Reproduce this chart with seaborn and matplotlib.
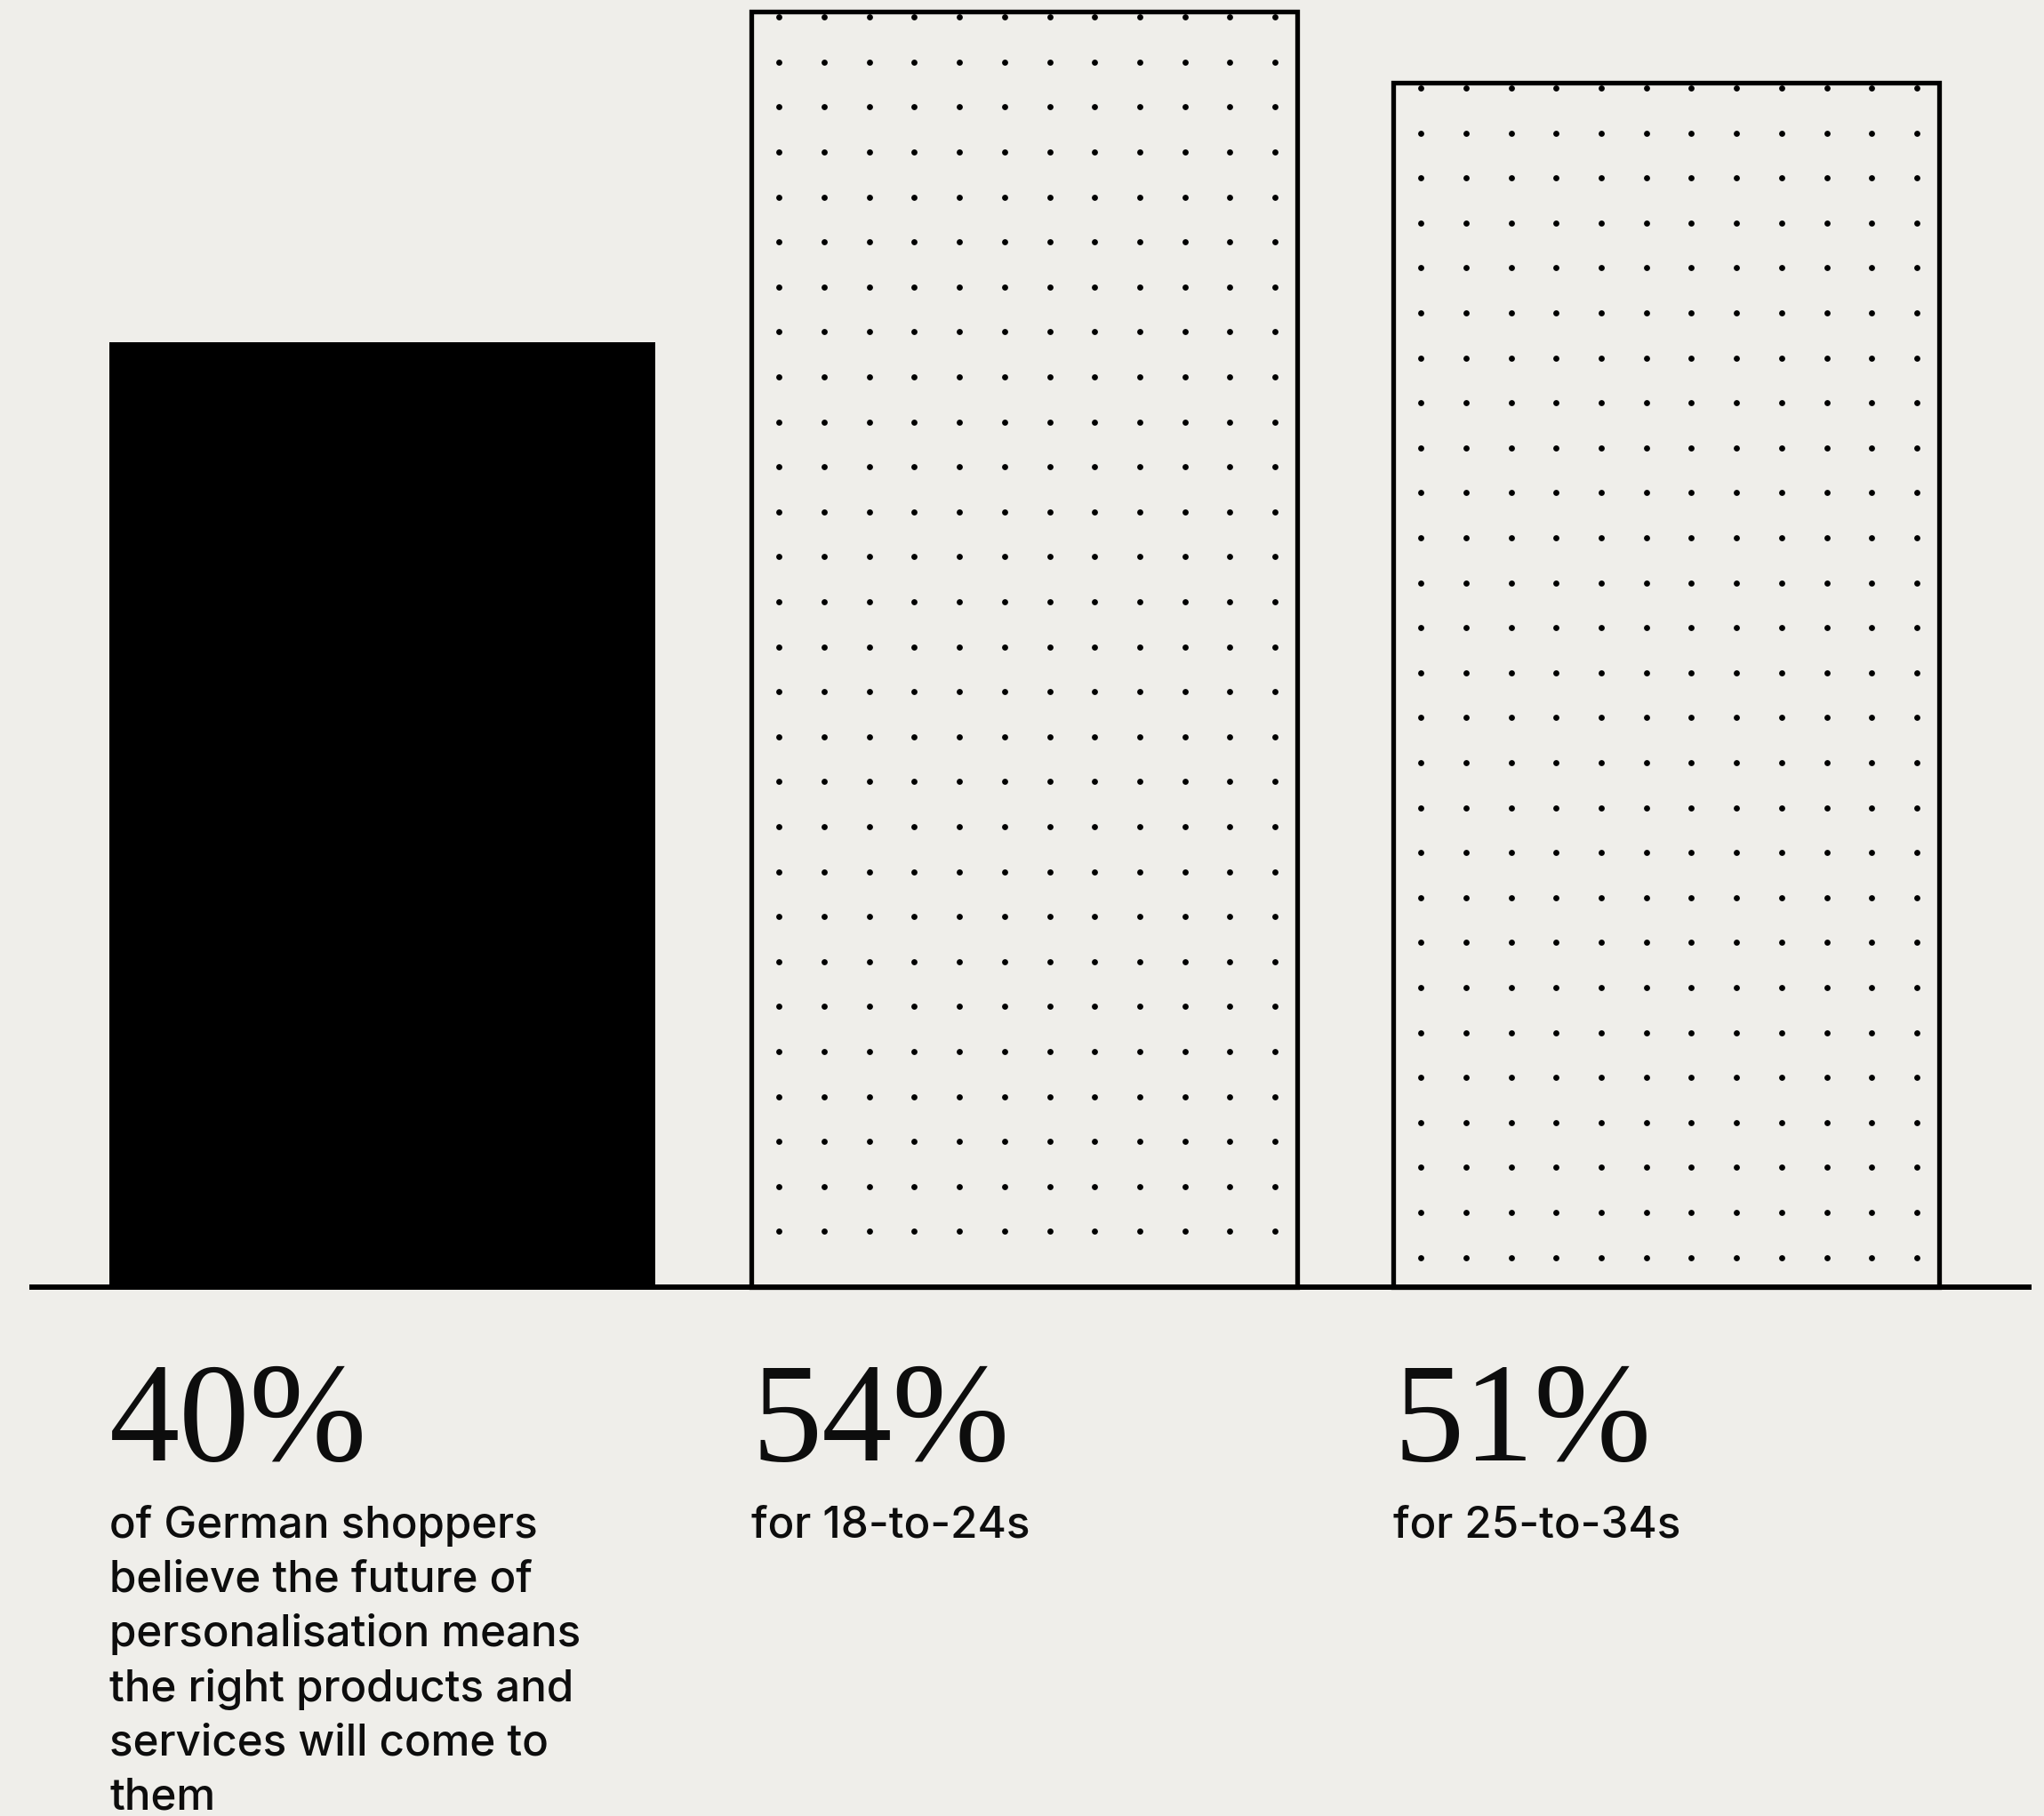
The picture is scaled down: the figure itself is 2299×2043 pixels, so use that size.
import numpy as np
import pandas as pd
import matplotlib
matplotlib.use("Agg")
import matplotlib.pyplot as plt
import seaborn as sns

# ---- data ----
groups = ["All German shoppers", "18-to-24s", "25-to-34s"]
values = [40, 54, 51]
value_labels = ["40%", "54%", "51%"]
captions = [
    "of German shoppers\nbelieve the future of\npersonalisation means\nthe right products and\nservices will come to\nthem",
    "for 18-to-24s",
    "for 25-to-34s",
]
dotted = [False, True, True]

# ---- style ----
BG = "#EFEEEA"
INK = "#000000"
TXT = "#0D0D0D"
W_PX, H_PX, DPI = 2299, 2043, 100

sns.set_theme(style="white")
plt.rcParams["font.family"] = ["Inter", "DejaVu Sans"]

fig = plt.figure(figsize=(W_PX / DPI, H_PX / DPI), dpi=DPI, facecolor=BG)
base_px = 1448  # baseline pixel row from top
py = 26.57      # pixels per percentage point
ax_left, ax_right = 36, 2282
ax = fig.add_axes([ax_left / W_PX, (H_PX - base_px) / H_PX,
                   (ax_right - ax_left) / W_PX, base_px / H_PX])
ax.set_facecolor(BG)

df = pd.DataFrame({"group": groups, "value": values})
palette = {g: (INK if not d else BG) for g, d in zip(groups, dotted)}
sns.barplot(data=df, x="group", y="value", hue="group", palette=palette,
            width=0.85, saturation=1, errorbar=None, legend=False, ax=ax)

ax.set_xlim(-0.5460, 2.5650)
ax.set_ylim(0, base_px / py)

for sp in ["top", "right", "left"]:
    ax.spines[sp].set_visible(False)
ax.spines["bottom"].set_linewidth(4.3)
ax.spines["bottom"].set_color(INK)
ax.spines["bottom"].set_zorder(5)
ax.set_xticks([])
ax.set_yticks([])
ax.set_xlabel("")
ax.set_ylabel("")

patches = sorted(ax.patches, key=lambda p: p.get_x())

inv = ax.transData.inverted()
for p, d in zip(patches, dotted):
    if not d:
        p.set_edgecolor("none")
        p.set_linewidth(0)
        continue
    p.set_edgecolor(INK)
    p.set_linewidth(3.8)
    p.set_clip_on(False)
    x0, w, h = p.get_x(), p.get_width(), p.get_height()
    lx, ty = ax.transData.transform((x0, h))
    rx, by = ax.transData.transform((x0 + w, 0))
    xs = np.arange(lx + 31, rx - 10, 50.7)
    ys = np.arange(ty - 6, by + 12, -50.6)
    XX, YY = np.meshgrid(xs, ys)
    pts = inv.transform(np.column_stack([XX.ravel(), YY.ravel()]))
    ax.scatter(pts[:, 0], pts[:, 1], s=24, color=INK, linewidths=0,
               zorder=4, clip_on=False)

# ---- labels ----
line_step = 61  # px between caption lines
for p, lab, cap in zip(patches, value_labels, captions):
    x0 = p.get_x()
    ax.text(x0, -(1643 - base_px) / py, lab, ha="left", va="baseline",
            fontfamily="Liberation Serif", fontsize=114, color=TXT, clip_on=False)
    n_extra = cap.count("\n")
    last_base = 1730 + n_extra * line_step
    ax.text(x0, -(last_base - base_px) / py, cap, ha="left", va="baseline",
            fontfamily=["Inter", "DejaVu Sans"], fontsize=35.5, fontweight=500,
            color=TXT, linespacing=1.40, clip_on=False)

fig.savefig("out.png", dpi=DPI, facecolor=BG)
